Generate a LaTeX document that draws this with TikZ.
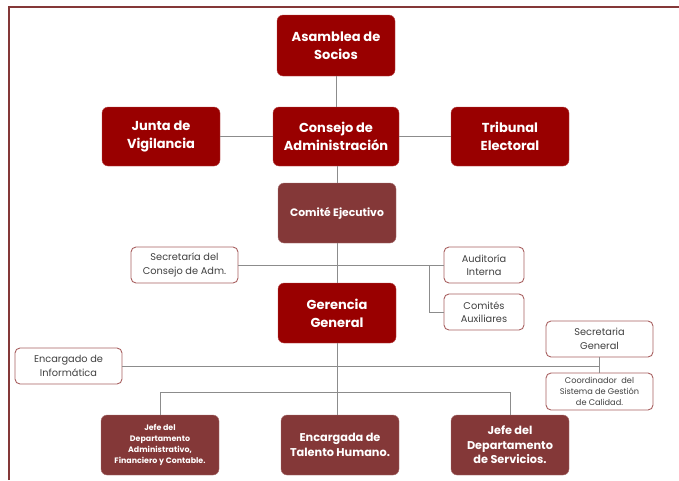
\documentclass[tikz,border=0pt]{standalone}
\usepackage{fontspec}
\setmainfont{Poppins}
\begin{document}
\begin{tikzpicture}[x=1pt,y=-1pt,
  darkbox/.style={draw=redA!70!white,fill=redA,text=white,rounded corners=6pt,align=center,inner sep=0pt,font=\bfseries},
  mutedbox/.style={draw=redB!70!white,fill=redB,text=white,rounded corners=6pt,align=center,inner sep=0pt,font=\bfseries},
  whitebox/.style={draw=frameC,line width=0.9pt,fill=white,text=textC,rounded corners=5pt,align=center,inner sep=0pt},
  bigtxt/.style={font=\bfseries\fontsize{13}{18}\selectfont},
  smalltxt/.style={font=\fontsize{9.8}{13.5}\selectfont},
  conn/.style={draw=lineC,line width=0.9pt}]
\definecolor{redA}{HTML}{990000}
\definecolor{redB}{HTML}{843838}
\definecolor{frameC}{HTML}{A86060}
\definecolor{lineC}{HTML}{8C8C8C}
\definecolor{textC}{HTML}{404040}
\useasboundingbox (0,0) rectangle (679,480);
\draw[color=redB,line width=2pt] (9,480) -- (9,7) -- (679,7);
% top tiers
\node[darkbox,bigtxt,minimum width=118pt,minimum height=61pt] (asam) at (336,45.5) {Asamblea de\\Socios};
\node[darkbox,bigtxt,minimum width=118pt,minimum height=59pt] (junta) at (161,136.5) {Junta de\\Vigilancia};
\node[darkbox,bigtxt,minimum width=126pt,minimum height=59pt] (cons) at (336,136.5) {Consejo de\\Administración};
\node[darkbox,bigtxt,minimum width=118pt,minimum height=59pt] (trib) at (510,136.5) {Tribunal\\Electoral};
\node[mutedbox,minimum width=118pt,minimum height=60pt,font=\bfseries\fontsize{10.8}{14}\selectfont] (comi) at (337,213) {Comité Ejecutivo};
% staff
\node[whitebox,smalltxt,minimum width=107pt,minimum height=36pt] (secc) at (184.5,265) {Secretaría del\\Consejo de Adm.};
\node[whitebox,smalltxt,minimum width=80pt,minimum height=36pt] (aud) at (484,265) {Auditoría\\Interna};
\node[whitebox,smalltxt,minimum width=80pt,minimum height=36pt] (comx) at (484,312) {Comités\\Auxiliares};
\node[darkbox,bigtxt,minimum width=118pt,minimum height=60pt] (ger) at (337,313) {Gerencia\\General};
\node[whitebox,smalltxt,minimum width=107pt,minimum height=36pt] (inf) at (68.5,366) {Encargado de\\Informática};
\node[whitebox,smalltxt,minimum width=107pt,minimum height=36pt] (secg) at (599.5,339) {Secretaria\\General};
\node[whitebox,minimum width=107pt,minimum height=37pt,font=\fontsize{8.2}{11.3}\selectfont] (coord) at (599.5,391.5) {Coordinador\ \ del\\Sistema de Gestión\\de Calidad.};
% bottom
\node[mutedbox,minimum width=118pt,minimum height=60pt,font=\bfseries\fontsize{7.9}{11}\selectfont] (jadm) at (160,445) {Jefe del\\Departamento\\Administrativo,\\Financiero y Contable.};
\node[mutedbox,minimum width=118pt,minimum height=60pt,font=\bfseries\fontsize{11.3}{15}\selectfont] (tal) at (340,445) {Encargada de\\Talento Humano.};
\node[mutedbox,minimum width=118pt,minimum height=60pt,font=\bfseries\fontsize{11.3}{14.5}\selectfont] (jser) at (510,445) {Jefe del\\Departamento\\de Servicios.};
% connectors
\draw[conn] (asam.south) -- (cons.north);
\draw[conn] (junta.east) -- (cons.west);
\draw[conn] (cons.east) -- (trib.west);
\draw[conn] (comi.north |- cons.south) -- (comi.north);
\draw[conn] (comi.south) -- (ger.north);
\draw[conn] (secc.east) -- (aud.west);
\coordinate (j1) at (429,265);
\draw[conn] (j1) |- (comx.west);
\coordinate (j2) at (599.5,366);
\draw[conn] (inf.east) -- (j2);
\draw[conn] (secg.south) -- (coord.north);
\coordinate (b1) at (160,392);
\coordinate (b2) at (510,392);
\draw[conn] (ger.south) -- (tal.north -| ger.south);
\draw[conn] (b1) -- (b2);
\draw[conn] (b1) -- (jadm.north);
\draw[conn] (b2) -- (jser.north);
\end{tikzpicture}
\end{document}
